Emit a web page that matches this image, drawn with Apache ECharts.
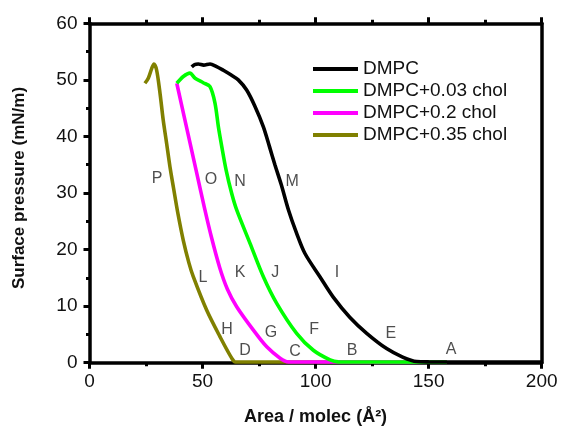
<!DOCTYPE html>
<html><head><meta charset="utf-8">
<script src="https://cdn.jsdelivr.net/npm/echarts@6/dist/echarts.min.js"></script>
<style>html,body{margin:0;padding:0;background:#fff}#c{width:561px;height:427px}</style>
</head><body><div id="c"></div>
<script>
var seriesNames = ['DMPC','DMPC+0.03 chol','DMPC+0.2 chol','DMPC+0.35 chol'];
var seriesColors = ['#000000','#00ff00','#ff00ff','#808000'];
var dmpc = [[45.2,52.3],[46.5,52.7],[48.1,52.8],[50.5,52.6],[53.3,52.8],[56,52.4],[59.2,51.7],[62.5,50.9],[65.8,50.0],[69.5,48.2],[73.2,45.3],[76.9,41.7],[79.6,38.2],[82.0,35.0],[84.8,31.5],[88.0,27.0],[91.5,23.0],[95.3,19.3],[101.9,15.2],[107.8,11.6],[115.2,8.0],[122.6,5.2],[131.4,2.5],[138.5,1.0],[144.7,0.2],[150,0.15],[175,0.1],[200,0.1]];
var chol003 = [[38.6,49.4],[41.5,50.6],[44.4,51.2],[46.7,50.3],[50.3,49.5],[53.3,48.8],[55.5,45.9],[57.0,41.7],[58.5,38.2],[60.4,34.1],[62.9,29.9],[65.1,27.0],[71.0,21.1],[76.9,15.2],[82.8,10.5],[91.6,5.2],[99.0,2.2],[106.4,0.5],[110,0.15],[158,0.1]];
var chol02 = [[38.6,49.4],[41.6,44.0],[44.6,38.6],[47.6,33.2],[50.6,27.8],[53.8,22.4],[57.6,16.8],[61.0,13.0],[65.1,9.9],[72.4,5.8],[78.4,2.8],[84.3,0.8],[88,0.15],[158,0.1]];
var chol035 = [[24.5,49.4],[26.0,50.3],[27.5,52.0],[28.5,52.8],[29.7,51.7],[31.2,47.6],[32.6,42.9],[34.1,38.8],[35.6,34.6],[37.2,30.8],[39.0,26.6],[41.5,21.6],[44.0,17.6],[45.9,15.2],[51.8,9.3],[57.7,4.6],[62.9,0.8],[64.5,0.15],[158,0.1]];
var letterNames = ['P','O','N','M','L','K','J','I','H','G','F','E','D','C','B','A'];
var letterX = [29.9,53.7,66.6,89.6,50.2,66.6,82.1,109.5,60.8,80.3,99.3,133.3,68.8,90.9,116.1,159.9];
var letterY = [32.6,32.3,32.1,32.1,15.0,15.9,15.9,15.9,5.8,5.4,5.8,5.2,2.1,1.9,2.1,2.4];
var xTicks = {min:0,max:200,interval:50};
var yTicks = {min:0,max:60,interval:10};

var allData = [dmpc, chol003, chol02, chol035];
var font = '"Liberation Sans", Arial, sans-serif';
var chart = echarts.init(document.getElementById('c'), null, {renderer:'canvas'});
var series = allData.map(function(d,i){
  return {name:seriesNames[i], type:'line', data:d, showSymbol:false, symbol:'none', smooth:0.3,
    lineStyle:{color:seriesColors[i], width:3.6}, itemStyle:{color:seriesColors[i]}, z:3+(3-i)};
});
series.push({name:'letters', type:'scatter', symbolSize:0, silent:true,
  data:letterNames.map(function(n,i){return {name:n, value:[letterX[i],letterY[i]]};}),
  label:{show:true, position:'inside', formatter:'{b}', fontFamily:font, fontSize:16, color:'#222'}});
var axisLine = {show:true, onZero:false, lineStyle:{color:'#000', width:3.5}};
var tick = {show:true, inside:false, length:6, lineStyle:{width:3,color:'#000'}};
var minor = {show:true, splitNumber:2, length:3.5, lineStyle:{width:3,color:'#000'}};
chart.setOption({
  animation:false,
  backgroundColor:'#fff',
  grid:{left:89.5, right:19.3, top:23.3, bottom:64.3, containLabel:false, outerBoundsMode:'none'},
  legend:{data:seriesNames, orient:'vertical', left:308, top:54, itemWidth:45, itemHeight:4, itemGap:2, icon:'rect',
    textStyle:{fontFamily:font, fontSize:19, color:'#111', lineHeight:20}},
  xAxis:[{type:'value', min:xTicks.min, max:xTicks.max, interval:xTicks.interval, position:'bottom',
    name:'Area / molec (Å²)', nameLocation:'middle', nameGap:45,
    nameTextStyle:{fontFamily:font, fontSize:18, fontWeight:'bold', color:'#111'},
    axisLine:axisLine, axisTick:tick, minorTick:minor,
    axisLabel:{fontFamily:font, fontSize:19, color:'#111', margin:10}, splitLine:{show:false}},
   {type:'value', min:xTicks.min, max:xTicks.max, interval:xTicks.interval, position:'top',
    axisLine:axisLine, axisTick:tick, minorTick:minor,
    axisLabel:{show:false}, splitLine:{show:false}}],
  yAxis:[{type:'value', min:yTicks.min, max:yTicks.max, interval:yTicks.interval, position:'left',
    name:'Surface pressure (mN/m)', nameLocation:'middle', nameGap:62,
    nameTextStyle:{fontFamily:font, fontSize:17, fontWeight:'bold', color:'#111', padding:[0,0,0,10]},
    axisLine:axisLine, axisTick:tick, minorTick:minor,
    axisLabel:{fontFamily:font, fontSize:19, color:'#111', margin:12}, splitLine:{show:false}},
   {type:'value', min:yTicks.min, max:yTicks.max, interval:yTicks.interval, position:'right',
    axisLine:axisLine, axisTick:{show:false}, axisLabel:{show:false}, splitLine:{show:false}}],
  series:series
});
</script></body></html>
